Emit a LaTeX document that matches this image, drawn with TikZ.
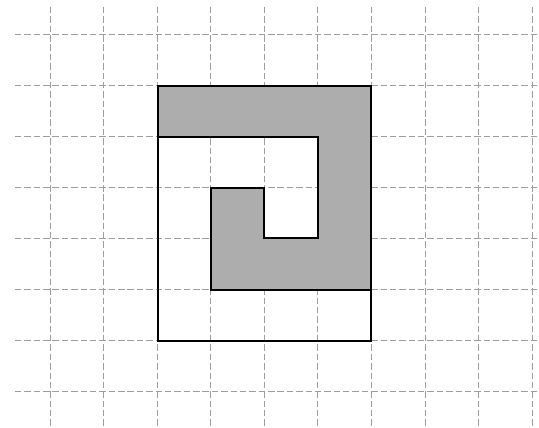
\documentclass[tikz,border=0pt]{standalone}
\begin{document}
\begin{tikzpicture}[x=0.03cm,y=-0.03cm,
  gridline/.style={draw=black!38,line width=0.6pt,dash pattern=on 5.5pt off 2.5pt},
  shapeline/.style={draw=black,line width=1.6pt,line join=miter},
  shadefill/.style={fill=black!32}]
\useasboundingbox (0,0) rectangle (539,428);
\fill[white] (0,0) rectangle (539,428);
% grid
\foreach \k in {0,...,9}{
  \draw[gridline] ({50+53.56*\k},7) -- ({50+53.56*\k},428);
}
\foreach \j in {0,...,7}{
  \draw[gridline] (15,{34+51*\j}) -- (539,{34+51*\j});
}
% key points
\coordinate (A) at (158,86);
\coordinate (B) at (371,86);
\coordinate (C) at (371,290);
\coordinate (D) at (211,290);
\coordinate (E) at (211,188);
\coordinate (F) at (264,188);
\coordinate (G) at (264,238);
\coordinate (H) at (318,238);
\coordinate (I) at (318,137);
\coordinate (J) at (158,137);
\coordinate (K) at (371,341);
\coordinate (L) at (158,341);
% gray spiral
\path[shadefill] (A) -- (B) -- (C) -- (D) -- (E) -- (F) -- (G) -- (H) -- (I) -- (J) -- cycle;
\draw[shapeline] (A) -- (B) -- (K) -- (L) -- cycle;
\draw[shapeline] (C) -- (D) -- (E) -- (F) -- (G) -- (H) -- (I) -- (J);
\end{tikzpicture}
\end{document}
